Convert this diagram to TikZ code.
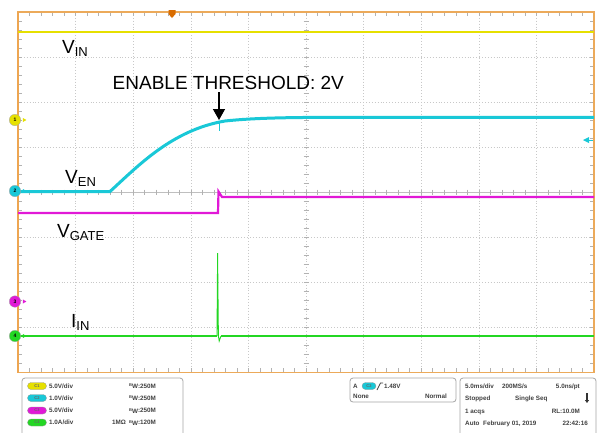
\documentclass[tikz,border=0pt]{standalone}
\usepackage{fontspec}
\setmainfont{Liberation Sans}
\usetikzlibrary{arrows.meta}
\definecolor{ytrace}{RGB}{230,224,0}
\definecolor{ctrace}{RGB}{25,200,215}
\definecolor{mtrace}{RGB}{225,25,215}
\definecolor{gtrace}{RGB}{35,215,35}
\definecolor{bord}{RGB}{236,170,90}
\definecolor{gridc}{RGB}{200,200,200}
\newcommand{\sublbl}[2]{#1\raisebox{-0.2em}{\fontsize{13}{13}\selectfont #2}}
\newcommand{\bwtxt}{\raisebox{1.6pt}{\fontsize{4}{4}\selectfont B}\raisebox{-0.6pt}{W}}
\tikzset{
  gridline/.style={gridc, line width=0.6pt, dash pattern=on 0.8pt off 2.1pt},
  tickmark/.style={gray!60, line width=0.5pt},
  lab/.style={inner sep=0pt, font=\fontsize{19}{22}\selectfont, text=black},
  info/.style={inner sep=0pt, font=\fontsize{6.3}{7}\selectfont\bfseries, text=black!75},
  panel/.style={draw=gray!70, line width=0.8pt, rounded corners=3pt, fill=white},
  badge/.style={draw=black!40, line width=0.3pt, rounded corners=3.5pt, minimum width=19pt, minimum height=7pt, inner sep=0pt, font=\fontsize{4}{4}\selectfont\bfseries, text=black!60},
  chmark/.style={circle, draw=black!35, line width=0.3pt, minimum size=11.5pt, inner sep=0pt, font=\fontsize{5}{5}\selectfont\bfseries},
}
\begin{document}
\begin{tikzpicture}[x=1pt,y=-1pt]
\useasboundingbox (0,0) rectangle (600,432);
\fill[white] (0,0) rectangle (600,432);
% grid
\foreach \k in {1,2,3,4,6,7,8,9} \draw[gridline] (18+57.6*\k,12) -- (18+57.6*\k,372);
\foreach \k in {1,2,3,5,6,7} \draw[gridline] (18,12+45*\k) -- (594,12+45*\k);
% centre lines with ticks
\draw[gray!50, line width=0.6pt] (18,192) -- (594,192);
\draw[gridline] (306,12) -- (306,372);
\foreach \i in {1,...,49} {
  \draw[tickmark] (18+11.52*\i,189.5) -- (18+11.52*\i,194.5);
  \draw[tickmark] (18+11.52*\i,12) -- (18+11.52*\i,16);
  \draw[tickmark] (18+11.52*\i,372) -- (18+11.52*\i,368);
}
\foreach \j in {1,...,39} {
  \draw[tickmark] (303.5,12+9*\j) -- (308.5,12+9*\j);
  \draw[tickmark] (18,12+9*\j) -- (22,12+9*\j);
  \draw[tickmark] (594,12+9*\j) -- (590,12+9*\j);
}
% border
\draw[bord, line width=1.2pt] (18,12) rectangle (594,372.5);
\draw[bord!90!orange, line width=2pt] (18,12) -- (18,372.5);
% traces
\draw[ytrace, line width=2.6pt] (18,32) -- (594,32);
\draw[mtrace, line width=2.2pt] (18,213) -- (218,213) -- (218.5,191.5) -- (222,197) -- (594,197);
\draw[gtrace, line width=0.9pt] (217,336) -- (217.6,253) -- (218.4,336) -- (219.2,341) -- (221,336);
\draw[gtrace, line width=2.6pt] (18,336) -- (216.5,336);
\draw[gtrace, line width=2.6pt] (221,336) -- (594,336);
\draw[ctrace, line width=0.7pt] (219,121) -- (219,131);
\draw[ctrace, line width=3pt] (18,191.5) -- (110,191.5) .. controls (138,166) and (172,130) .. (225,121)
  .. controls (255,117.8) and (290,117.5) .. (330,117.3) -- (594,117.3);
% markers
\fill[orange!85!black] (168.5,10) -- (175.5,10) -- (175.5,14) -- (172,18) -- (168.5,14) -- cycle;
\fill[ctrace] (583,140) -- (589,137) -- (589,143) -- cycle;
\draw[ctrace, line width=0.8pt] (588,140) -- (593,140);
\node[chmark, fill=ytrace] (m1) at (15,120) {1};
\node[chmark, fill=ctrace] (m2) at (15,191) {2};
\node[chmark, fill=mtrace] (m3) at (15,301.5) {3};
\node[chmark, fill=gtrace] (m4) at (15,336) {4};
\foreach \n/\c in {m1/ytrace,m2/ctrace,m3/mtrace,m4/gtrace}
  \fill[\c] ([xshift=2pt]\n.east) ++(0,-2) -- ++(3.5,2) -- ++(-3.5,2) -- cycle;
% labels
\node[lab, anchor=base west] (vin) at (62,53) {\sublbl{V}{IN}};
\node[lab, anchor=base west] (thr) at (112.5,89) {ENABLE THRESHOLD: 2V};
\node[lab, anchor=base west] (ven) at (65,183) {\sublbl{V}{EN}};
\node[lab, anchor=base west] (vgate) at (57,237) {\sublbl{V}{GATE}};
\node[lab, anchor=base west] (iin) at (71,327) {\sublbl{I}{IN}};
\coordinate (arrS) at (219,92);
\coordinate (arrE) at (219,120);
\draw[-{Triangle[width=12pt,length=11pt]}, line width=1.4pt] (arrS) -- (arrE);
% bottom panels
\draw[panel] (22,378) rectangle (183,440);
\draw[panel] (350,378) rectangle (456,402);
\draw[panel] (460,378) rectangle (596,440);
% channel rows
\node[badge, fill=ytrace] (b1) at (37,386) {C1};
\node[badge, fill=ctrace] (b2) at (37,398) {C2};
\node[badge, fill=mtrace] (b3) at (37,410.5) {C3};
\node[badge, fill=gtrace] (b4) at (37,422.5) {C4};
\node[info, anchor=base west] (s1) at (49,388.3) {5.0V/div};
\node[info, anchor=base west] (s2) at (49,400.3) {1.0V/div};
\node[info, anchor=base west] (s3) at (49,412.8) {5.0V/div};
\node[info, anchor=base west] (s4) at (49,424.8) {1.0A/div};
\node[info, anchor=base west] (w1) at (129,388.3) {\bwtxt:250M};
\node[info, anchor=base west] (w2) at (129,400.3) {\bwtxt:250M};
\node[info, anchor=base west] (w3) at (129,412.8) {\bwtxt:250M};
\node[info, anchor=base west] (w4) at (129,424.8) {\bwtxt:120M};
\node[info, anchor=base west] (imp) at (112,424.8) {1M\symbol{"03A9}};
% trigger panel
\node[info, anchor=base west] (ta) at (353,388.3) {A};
\node[badge, fill=ctrace, minimum width=14pt] (tb) at (369,386) {C2};
\draw[black!75, line width=0.8pt] (377,390) -- (380.5,383) -- (383,383);
\node[info, anchor=base west] (tl) at (384,388.3) {1.48V};
\node[info, anchor=base west] (tn) at (353,398.5) {None};
\node[info, anchor=base east] (tm) at (447,398.5) {Normal};
% acquisition panel
\node[info, anchor=base west] (r1a) at (465,388.3) {5.0ms/div};
\node[info, anchor=base west] (r1b) at (502,388.3) {200MS/s};
\node[info, anchor=base east] (r1c) at (580,388.3) {5.0ns/pt};
\node[info, anchor=base west] (r2a) at (465,400.8) {Stopped};
\node[info, anchor=base west] (r2b) at (515,400.8) {Single Seq};
\coordinate (dnS) at (587,393);
\coordinate (dnE) at (587,403);
\draw[black!80, line width=1.3pt, -{Triangle[width=4pt,length=3pt]}] (dnS) -- (dnE);
\node[info, anchor=base west] (r3a) at (465,413.3) {1 acqs};
\node[info, anchor=base east] (r3b) at (580,413.3) {RL:10.0M};
\node[info, anchor=base west] (r4a) at (465,425.3) {Auto};
\node[info, anchor=base west] (r4b) at (483,425.3) {February 01, 2019};
\node[info, anchor=base east] (r4c) at (588,425.3) {22:42:16};
\end{tikzpicture}
\end{document}
